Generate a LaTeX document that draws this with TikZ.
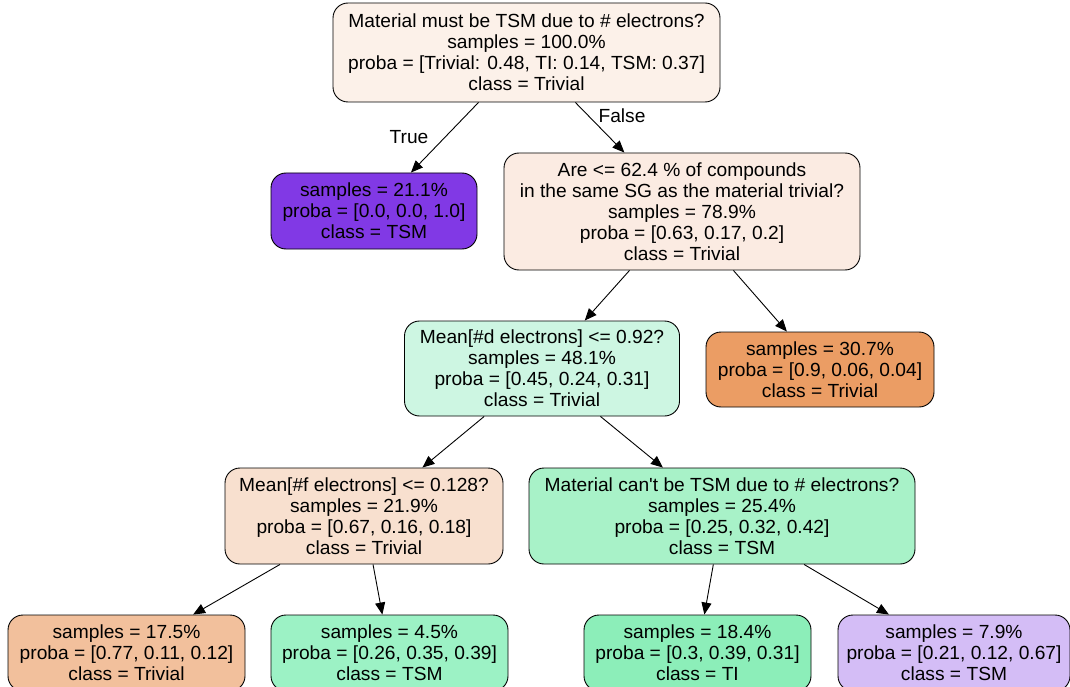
\documentclass[tikz,border=0pt]{standalone}
\usepackage{fontspec}
\setmainfont{Liberation Sans}[FakeStretch=1.01, Ligatures=TeXOff]
\usetikzlibrary{arrows.meta}
\definecolor{cRoot}{HTML}{FCF1E9}
\definecolor{cTsm}{HTML}{8139E5}
\definecolor{cAre}{HTML}{FBEBE2}
\definecolor{cMeanD}{HTML}{CDF6E2}
\definecolor{cTriv}{HTML}{EB9D64}
\definecolor{cMeanF}{HTML}{F8E0CF}
\definecolor{cCant}{HTML}{A8F2C8}
\definecolor{cA}{HTML}{F2C09C}
\definecolor{cB}{HTML}{9CF2C5}
\definecolor{cC}{HTML}{8CEEB9}
\definecolor{cD}{HTML}{D4BDF6}
\tikzset{
  tree/.style={draw=black, line width=0.9pt, rounded corners=15pt, align=center,
    inner sep=0pt, font=\fontsize{19}{21}\selectfont},
  edge/.style={line width=0.9pt, -{Triangle[length=12pt,width=10pt]}},
  elabel/.style={font=\fontsize{19}{21}\selectfont, inner sep=0pt}
}
\begin{document}
\begin{tikzpicture}[x=1pt,y=-1pt]
\clip (0,0) rectangle (1070,687);
\useasboundingbox (0,0) rectangle (1070,687);
\node[tree, fill=cRoot, minimum width=387pt, minimum height=99pt] (root) at (526.5,52.5)
  {Material must be TSM due to \# electrons?\\samples = 100.0\%\\proba = [Trivial: 0.48, TI: 0.14, TSM: 0.37]\\class = Trivial};
\node[tree, fill=cTsm, minimum width=206pt, minimum height=76pt] (tsm) at (374,211)
  {samples = 21.1\%\\proba = [0.0, 0.0, 1.0]\\class = TSM};
\node[tree, fill=cAre, minimum width=356pt, minimum height=117pt] (are) at (682,211.5)
  {Are <= 62.4 \% of compounds\\in the same SG as the material trivial?\\samples = 78.9\%\\proba = [0.63, 0.17, 0.2]\\class = Trivial};
\node[tree, fill=cMeanD, minimum width=275pt, minimum height=95pt] (meand) at (542,368.5)
  {Mean[\#d electrons] <= 0.92?\\samples = 48.1\%\\proba = [0.45, 0.24, 0.31]\\class = Trivial};
\node[tree, fill=cTriv, minimum width=228pt, minimum height=75pt] (triv) at (820,369.5)
  {samples = 30.7\%\\proba = [0.9, 0.06, 0.04]\\class = Trivial};
\node[tree, fill=cMeanF, minimum width=278pt, minimum height=96pt] (meanf) at (364,516)
  {Mean[\#f electrons] <= 0.128?\\samples = 21.9\%\\proba = [0.67, 0.16, 0.18]\\class = Trivial};
\node[tree, fill=cCant, minimum width=386pt, minimum height=96pt] (cant) at (722,516)
  {Material can't be TSM due to \# electrons?\\samples = 25.4\%\\proba = [0.25, 0.32, 0.42]\\class = TSM};
\node[tree, fill=cA, minimum width=237pt, minimum height=76pt] (la) at (126.5,653)
  {samples = 17.5\%\\proba = [0.77, 0.11, 0.12]\\class = Trivial};
\node[tree, fill=cB, minimum width=237pt, minimum height=76pt] (lb) at (389.5,653)
  {samples = 4.5\%\\proba = [0.26, 0.35, 0.39]\\class = TSM};
\node[tree, fill=cC, minimum width=227pt, minimum height=76pt] (lc) at (697.5,653)
  {samples = 18.4\%\\proba = [0.3, 0.39, 0.31]\\class = TI};
\node[tree, fill=cD, minimum width=232pt, minimum height=76pt] (ld) at (954,653)
  {samples = 7.9\%\\proba = [0.21, 0.12, 0.67]\\class = TSM};
\draw[edge] (root) -- (tsm);
\draw[edge] (root) -- (are);
\draw[edge] (are) -- (meand);
\draw[edge] (are) -- (triv);
\draw[edge] (meand) -- (meanf);
\draw[edge] (meand) -- (cant);
\draw[edge] (meanf) -- (la);
\draw[edge] (meanf) -- (lb);
\draw[edge] (cant) -- (lc);
\draw[edge] (cant) -- (ld);
\node[elabel] (tlab) at (409,137) {True};
\node[elabel] (flab) at (622,116) {False};
\end{tikzpicture}
\end{document}
